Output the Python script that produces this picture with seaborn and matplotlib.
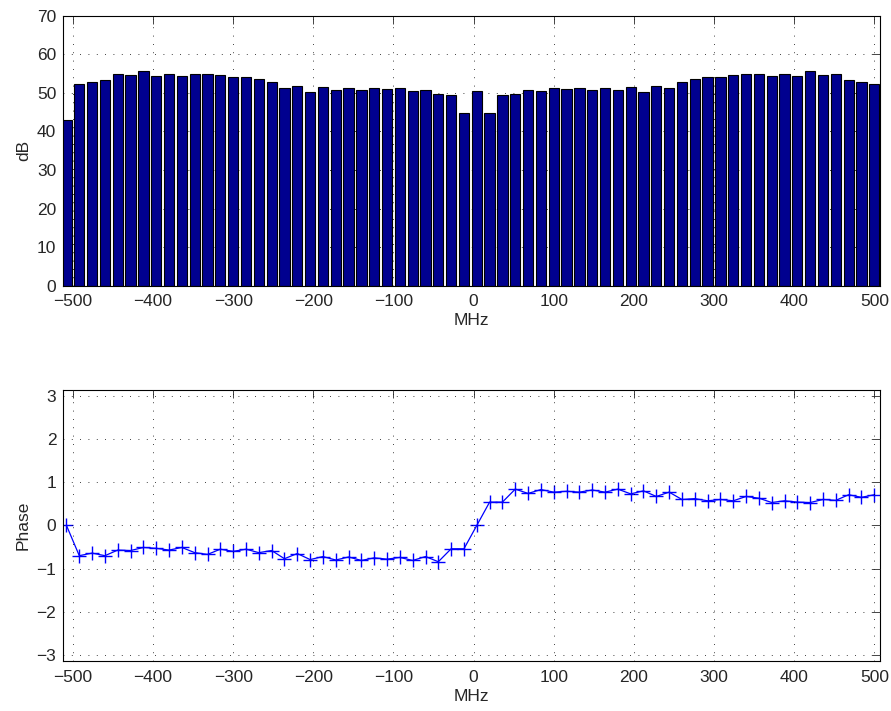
import numpy as np
import seaborn as sns
import matplotlib.pyplot as plt

# Frequency bins (MHz), 64 points spaced 16 MHz
freq = np.arange(-508, 501, 16)

# Magnitude per bin (dB)
mag_db = [43.0, 52.4, 52.8, 53.3, 54.9, 54.5, 55.7, 54.4, 55.0, 54.4,
          54.9, 54.9, 54.5, 54.2, 54.1, 53.6, 52.9, 51.3, 51.8, 50.1,
          51.5, 50.8, 51.3, 50.7, 51.2, 50.9, 51.2, 50.6, 50.8, 49.8,
          49.4, 44.9, 50.5, 44.9, 49.4, 49.8, 50.7, 50.6, 51.3, 50.9,
          51.2, 50.7, 51.3, 50.7, 51.5, 50.1, 51.8, 51.3, 52.9, 53.6,
          54.1, 54.2, 54.5, 54.9, 54.9, 54.4, 55.0, 54.4, 55.7, 54.5,
          54.9, 53.3, 52.8, 52.4]

# Phase per bin (rad)
phase = [0.00, -0.70, -0.64, -0.70, -0.57, -0.58, -0.51, -0.53, -0.57, -0.51,
         -0.63, -0.67, -0.55, -0.60, -0.55, -0.63, -0.58, -0.77, -0.65, -0.79,
         -0.72, -0.80, -0.73, -0.81, -0.75, -0.78, -0.74, -0.81, -0.72, -0.84,
         -0.54, -0.54, 0.00, 0.54, 0.54, 0.84, 0.74, 0.83, 0.77, 0.79,
         0.77, 0.82, 0.77, 0.84, 0.73, 0.80, 0.67, 0.77, 0.60, 0.62,
         0.57, 0.60, 0.57, 0.67, 0.63, 0.53, 0.57, 0.54, 0.53, 0.60,
         0.58, 0.71, 0.65, 0.71]

sns.set_style('white', {'axes.edgecolor': 'black',
                        'xtick.direction': 'in', 'ytick.direction': 'in'})
plt.rcParams['font.family'] = ['Liberation Sans', 'DejaVu Sans']
plt.rcParams['font.size'] = 12.5

fig = plt.figure(figsize=(8.91, 7.11), dpi=100)
ax1 = fig.add_axes([0.071, 0.598, 0.917, 0.380])
ax2 = fig.add_axes([0.071, 0.070, 0.917, 0.382])

# Magnitude bars
sns.barplot(x=freq, y=mag_db, ax=ax1, native_scale=True, width=0.8,
            color='#00008F', saturation=1, edgecolor='black', linewidth=0.8,
            errorbar=None)
ax1.set_ylim(0, 70)
ax1.set_yticks(np.arange(0, 71, 10))
ax1.set_ylabel('dB')
ax1.set_axisbelow(True)

# Phase line
sns.lineplot(x=freq, y=phase, ax=ax2, color='blue', linewidth=0.9,
             marker='+', markersize=10, markeredgecolor='blue',
             markeredgewidth=1.0)
ax2.set_ylim(-np.pi, np.pi)
ax2.set_yticks(np.arange(-3, 4, 1))
ax2.set_ylabel('Phase')
ax2.set_axisbelow(False)

for ax in (ax1, ax2):
    ax.set_xlim(-512, 507.5)
    ax.set_xticks(np.arange(-500, 501, 100))
    ax.set_xlabel('MHz', labelpad=3)
    ax.grid(True, color='black', linestyle=(0, (1, 9)), linewidth=0.6)
    ax.tick_params(direction='in', top=True, right=True, length=6,
                   width=0.6, labelsize=12.5)
    ax.tick_params(axis='x', pad=6)
    ax.tick_params(axis='y', pad=5)
    for s in ax.spines.values():
        s.set_linewidth(0.8)
        s.set_color('black')

fig.savefig('out.png', dpi=100)
